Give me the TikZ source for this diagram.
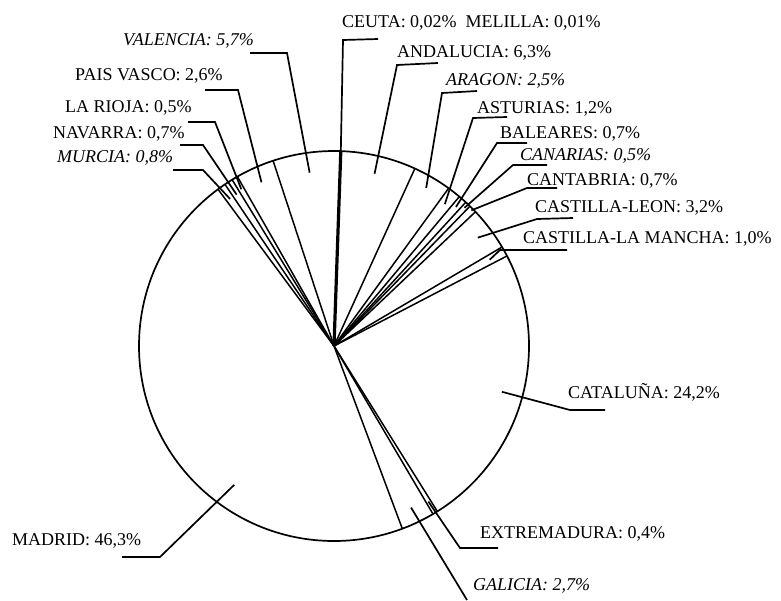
\documentclass[tikz,border=0pt]{standalone}
\usepackage{fontspec}
\setmainfont{Liberation Serif}
\begin{document}
\begin{tikzpicture}[x=1pt,y=-1pt,
  lbl/.style={anchor=base west,inner sep=0pt,font=\fontsize{18}{18}\selectfont},
  ilbl/.style={lbl,font=\fontsize{18}{18}\selectfont\itshape},
  lead/.style={line width=1.7pt},
  bnd/.style={line width=1.5pt},
  rim/.style={line width=1.7pt}]
\useasboundingbox (0,0) rectangle (781,600);
\fill[white] (0,0) rectangle (781,600);
\coordinate (C) at (334,346);
\begin{scope}[shift={(C)},yscale=-1]
  \draw[rim] (0,0) circle (195);
  \foreach \a in {65.5,54,50,47.5,45.8,43.5,30.5,27.5,-58,-59.5,-69.5,126.5,124,121.5,119.7,108.2}
    \draw[bnd] (0,0) -- (\a:195);
  \draw[line width=3.2pt] (0,0) -- (88:195) coordinate (s-ceu);
  % leader start points inside the slices
  \coordinate (s-and) at (76.75:177);
  \coordinate (s-ara) at (59.75:183);
  \coordinate (s-ast) at (52:180);
  \coordinate (s-bal) at (48.75:185);
  \coordinate (s-can) at (46.65:190);
  \coordinate (s-cnt) at (44.65:193);
  \coordinate (s-cle) at (37:180);
  \coordinate (s-clm) at (29:178);
  \coordinate (s-cat) at (-15.25:174);
  \coordinate (s-ext) at (-58.75:182);
  \coordinate (s-gal) at (-64.5:179);
  \coordinate (s-mad) at (234.3:171);
  \coordinate (s-mur) at (125.25:180);
  \coordinate (s-nav) at (122.75:180);
  \coordinate (s-rio) at (120.6:182);
  \coordinate (s-pv)  at (113.9:179);
  \coordinate (s-val) at (98:175);
\end{scope}

% labels
\node[lbl]  (l-ceu) at (342,27)  {CEUTA: 0,02\% \ MELILLA: 0,01\%};
\node[lbl]  (l-and) at (397,57)  {ANDALUCIA: 6,3\%};
\node[ilbl] (l-ara) at (446,85)  {ARAGON: 2,5\%};
\node[lbl]  (l-ast) at (477,113) {ASTURIAS: 1,2\%};
\node[lbl]  (l-bal) at (500,138) {BALEARES: 0,7\%};
\node[ilbl] (l-can) at (520,160) {CANARIAS: 0,5\%};
\node[lbl]  (l-cnt) at (527,185) {CANTABRIA: 0,7\%};
\node[lbl]  (l-cle) at (535,212) {CASTILLA-LEON: 3,2\%};
\node[lbl]  (l-clm) at (523,243) {CASTILLA-LA MANCHA: 1,0\%};
\node[lbl]  (l-cat) at (568,398) {CATALUÑA: 24,2\%};
\node[lbl]  (l-ext) at (480,538) {EXTREMADURA: 0,4\%};
\node[ilbl] (l-gal) at (473,590) {GALICIA: 2,7\%};
\node[lbl]  (l-mad) at (12,545)  {MADRID: 46,3\%};
\node[ilbl] (l-mur) at (57,162)  {MURCIA: 0,8\%};
\node[lbl]  (l-nav) at (53,138)  {NAVARRA: 0,7\%};
\node[lbl]  (l-rio) at (65,112)  {LA RIOJA: 0,5\%};
\node[lbl]  (l-pv)  at (75,80)   {PAIS VASCO: 2,6\%};
\node[ilbl] (l-val) at (123,45)  {VALENCIA: 5,7\%};

% leader bends and ends
\coordinate (k-ceu) at (343,40);  \coordinate (e-ceu) at (378,39);
\coordinate (k-and) at (397,65);  \coordinate (e-and) at (438,63);
\coordinate (k-ara) at (442,93);  \coordinate (e-ara) at (477,91);
\coordinate (k-ast) at (473,118); \coordinate (e-ast) at (507,117);
\coordinate (k-bal) at (497,143); \coordinate (e-bal) at (527,143);
\coordinate (k-can) at (513,165); \coordinate (e-can) at (547,165);
\coordinate (k-cnt) at (527,188); \coordinate (e-cnt) at (557,188);
\coordinate (k-cle) at (537,219); \coordinate (e-cle) at (573,218);
\coordinate (k-clm) at (500,250); \coordinate (e-clm) at (567,250);
\coordinate (k-cat) at (570,410); \coordinate (e-cat) at (605,410);
\coordinate (k-ext) at (460,548); \coordinate (e-ext) at (498,548);
\coordinate (k-gal) at (467,600);
\coordinate (k-mad) at (160,557); \coordinate (e-mad) at (122,557);
\coordinate (k-mur) at (203,170); \coordinate (e-mur) at (173,170);
\coordinate (k-nav) at (203,145); \coordinate (e-nav) at (180,145);
\coordinate (k-rio) at (215,122); \coordinate (e-rio) at (188,122);
\coordinate (k-pv)  at (238,90);  \coordinate (e-pv)  at (205,90);
\coordinate (k-val) at (287,53);  \coordinate (e-val) at (250,53);

\draw[lead] (s-ceu) -- (k-ceu) -- (e-ceu);
\foreach \n in {and,ara,ast,bal,can,cnt,cle,clm,cat,ext,mad,mur,nav,rio,pv,val}
  \draw[lead] (s-\n) -- (k-\n) -- (e-\n);
\draw[lead] (s-gal) -- (k-gal);
\end{tikzpicture}
\end{document}
